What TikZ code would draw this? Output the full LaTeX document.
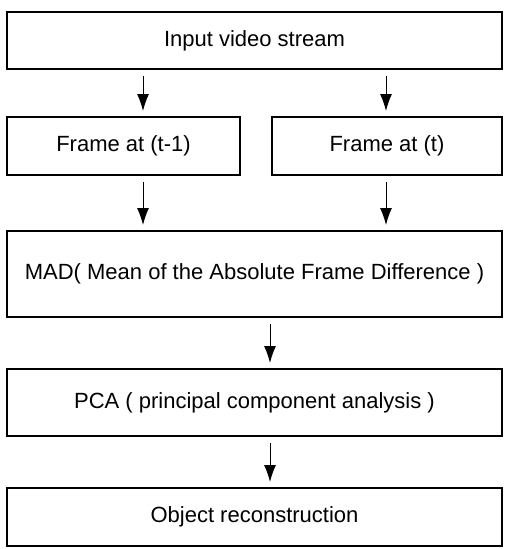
\documentclass[tikz,border=0pt]{standalone}
\usepackage{fontspec}
\setmainfont{Liberation Sans}
\usepackage{tikz}
\usetikzlibrary{positioning, arrows.meta}

\tikzstyle{process} = [rectangle, minimum width=495pt, minimum height=57pt, inner sep=0pt, outer sep=0pt, text centered, draw=black, line width=1.1pt, font=\fontsize{22pt}{26pt}\selectfont]
\tikzstyle{arrow} = [line width=1pt, -{Latex[length=17pt,width=12pt]}, shorten <=7pt, shorten >=6pt]

\begin{document}
\begin{tikzpicture}[x=1pt, y=1pt]
        \useasboundingbox (0,0) rectangle (504,-549);

        % Nodes
        \node (input) [process] at (254.5,-40.5) {Input video stream};
        \node (frameprev) [process, minimum width=233pt, minimum height=58pt, below=48pt of input.south west, anchor=north west] {Frame at (t-1)};
        \node (framecur) [process, minimum width=230pt, minimum height=58pt, right=32pt of frameprev] {Frame at (t)};
        \node (mad) [process, minimum height=86pt, below=56pt of frameprev.south west, anchor=north west] {MAD( Mean of the Absolute Frame Difference )};
        \node (pca) [process, minimum height=67pt, below=52pt of mad] {PCA ( principal component analysis )};
        \node (recon) [process, minimum height=58pt, below=52pt of pca] {Object reconstruction};

        % Columns of the arrows
        \coordinate (lcol) at (143,0);
        \coordinate (rcol) at (386,0);
        \coordinate (mcol) at (270,0);

        % Arrows
        \draw [arrow] (input.south -| lcol) -- (frameprev.north -| lcol);
        \draw [arrow] (input.south -| rcol) -- (framecur.north -| rcol);
        \draw [arrow] (frameprev.south -| lcol) -- (mad.north -| lcol);
        \draw [arrow] (framecur.south -| rcol) -- (mad.north -| rcol);
        \draw [arrow] (mad.south -| mcol) -- (pca.north -| mcol);
        \draw [arrow] (pca.south -| mcol) -- (recon.north -| mcol);
    \end{tikzpicture}
\end{document}
